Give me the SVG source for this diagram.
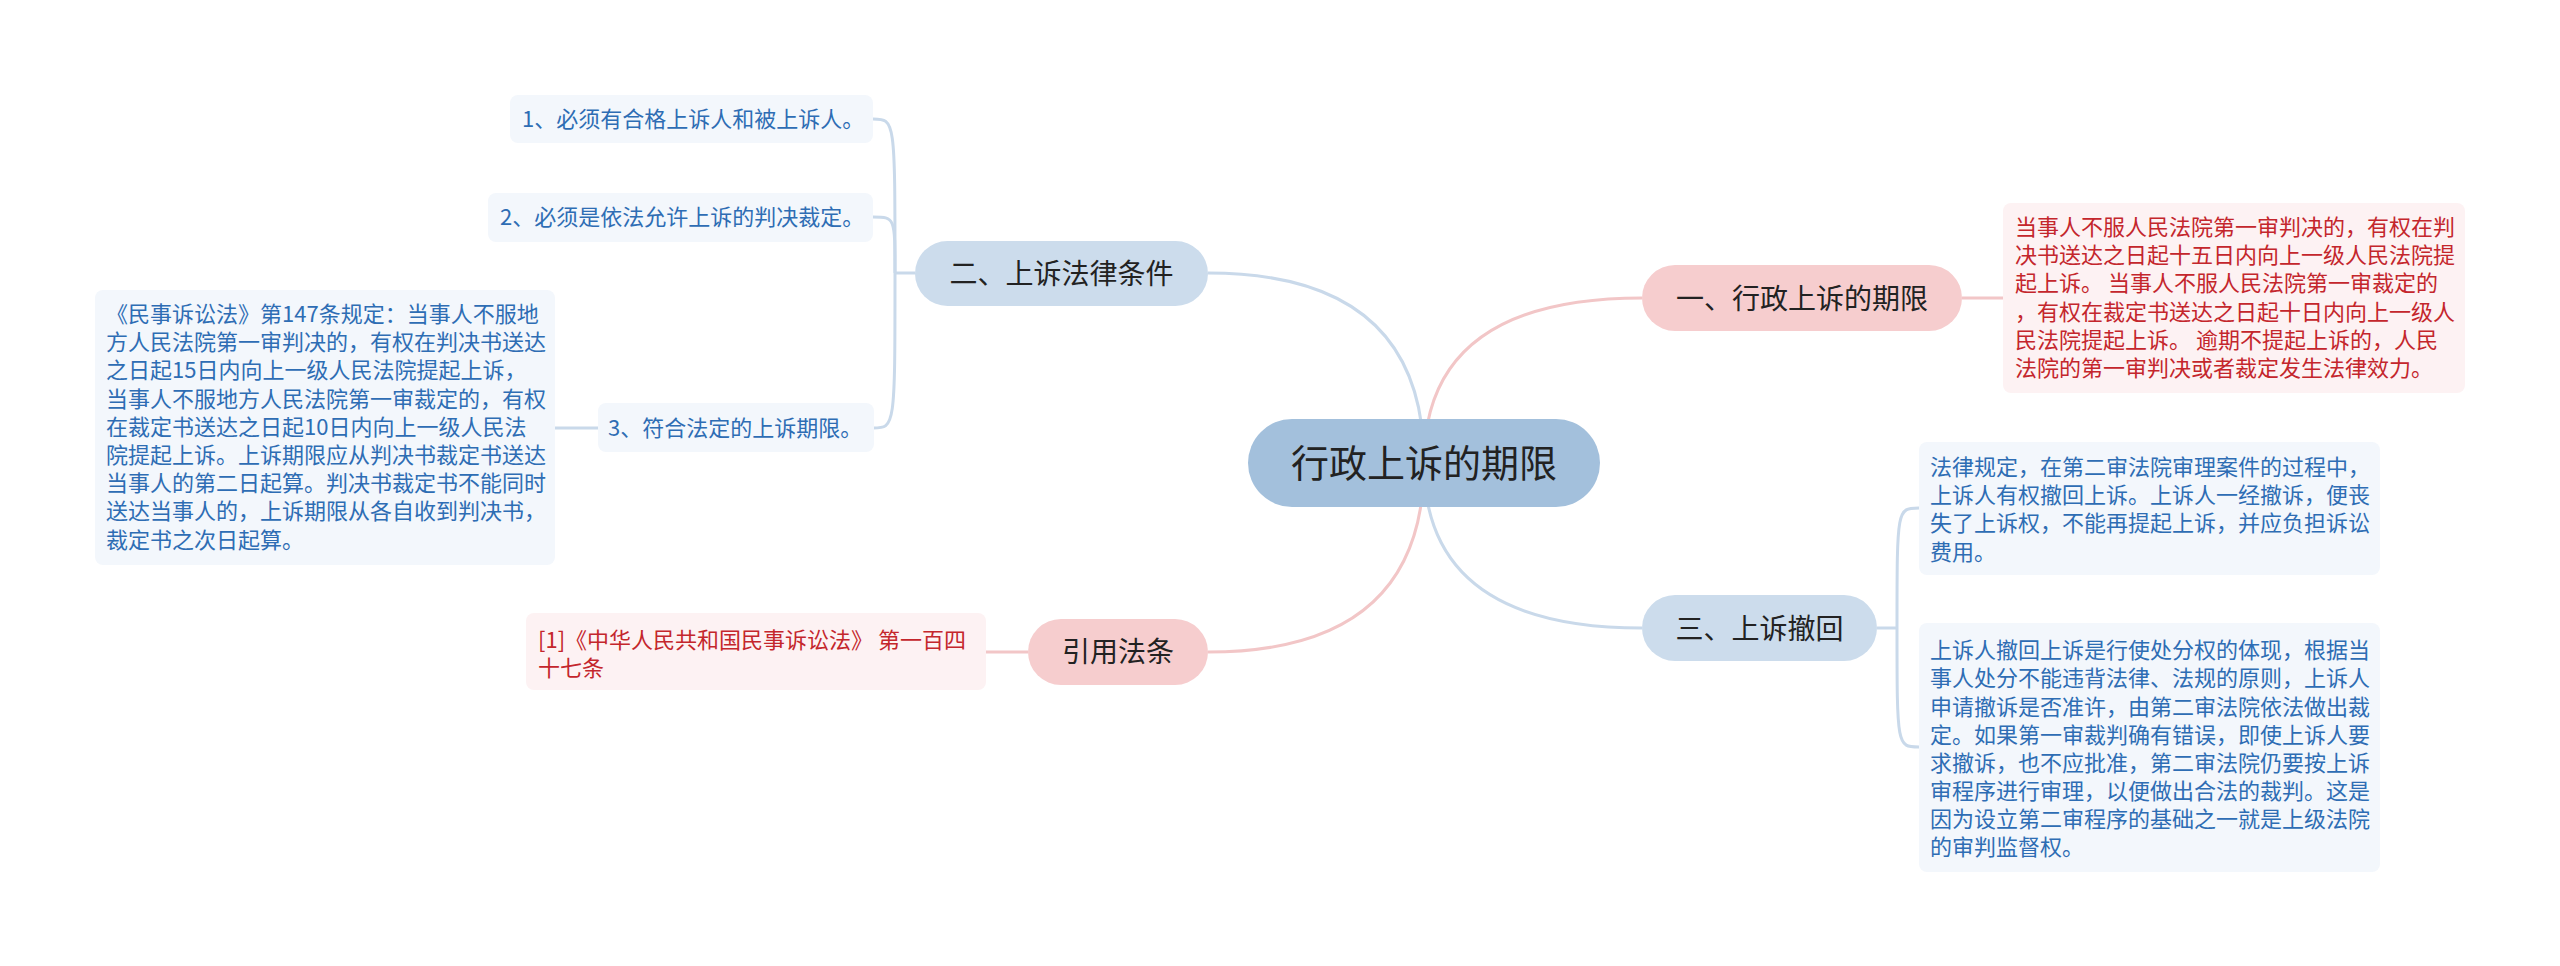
<svg xmlns="http://www.w3.org/2000/svg" width="2560" height="966" viewBox="0 0 2560 966">
<style>
.bg{fill:#ffffff}
.lb{fill:none;stroke:#c9d9ea;stroke-width:3}
.lr{fill:none;stroke:#f2c6c7;stroke-width:3}
.root{fill:#a3c0dc}
.nb{fill:#ccdcec}
.nr{fill:#f6cdce}
.tb{fill:#f3f7fc}
.tr{fill:#fdf2f3}
.t0{font-family:"Noto Sans CJK SC","Noto Sans",sans-serif;font-size:38px;fill:#222;text-anchor:middle}
.t1{font-family:"Noto Sans CJK SC","Noto Sans",sans-serif;font-size:28px;fill:#222;text-anchor:middle}
.tx{font-family:"Noto Sans CJK SC","Noto Sans",sans-serif;font-size:22px;fill:#2e6db4}
.txr{font-family:"Noto Sans CJK SC","Noto Sans",sans-serif;font-size:22px;fill:#c4262c}
</style>
<rect class="bg" x="0" y="0" width="2560" height="966"/>
<g id="connectors">
<path class="lb" d="M1424,463 Q1424,273 1208,273"/>
<path class="lr" d="M1424,463 Q1424,298 1642,298"/>
<path class="lr" d="M1424,463 Q1424,652 1208,652"/>
<path class="lb" d="M1424,463 Q1424,628 1642,628"/>
<path class="lr" d="M1962,298 L2003,298"/>
<path class="lr" d="M1028,652 L986,652"/>
<path class="lb" d="M915,273 L895,273"/>
<path class="lb" d="M895,273 C895,119 895,119 873,119"/>
<path class="lb" d="M895,273 C895,217 895,217 873,217"/>
<path class="lb" d="M895,273 C895,428 895,428 873,428"/>
<path class="lb" d="M598,428 L555,428"/>
<path class="lb" d="M1877,628 L1897,628"/>
<path class="lb" d="M1897,628 C1897,508 1897,508 1919,508"/>
<path class="lb" d="M1897,628 C1897,747 1897,747 1919,747"/>
</g>
<g id="root">
<rect class="root" x="1248" y="419" width="352" height="88" rx="44"/>
<text class="t0" x="1424" y="477">行政上诉的期限</text>
</g>
<g id="n1">
<rect class="nr" x="1642" y="265" width="320" height="66" rx="33"/>
<text class="t1" x="1802" y="309">一、行政上诉的期限</text>
</g>
<g id="n1a">
<rect class="tr" x="2003" y="203" width="462" height="190" rx="8"/>
<text class="txr" x="2015" y="235">当事人不服人民法院第一审判决的，有权在判</text>
<text class="txr" x="2015" y="263">决书送达之日起十五日内向上一级人民法院提</text>
<text class="txr" x="2015" y="291">起上诉。 当事人不服人民法院第一审裁定的</text>
<text class="txr" x="2015" y="320">，有权在裁定书送达之日起十日内向上一级人</text>
<text class="txr" x="2015" y="348">民法院提起上诉。 逾期不提起上诉的，人民</text>
<text class="txr" x="2015" y="376">法院的第一审判决或者裁定发生法律效力。</text>
</g>
<g id="n2">
<rect class="nb" x="915" y="241" width="293" height="65" rx="32.5"/>
<text class="t1" x="1061.5" y="284">二、上诉法律条件</text>
</g>
<g id="n2a">
<rect class="tb" x="510" y="95" width="363" height="48" rx="8"/>
<text class="tx" x="522" y="127">1、必须有合格上诉人和被上诉人。</text>
</g>
<g id="n2b">
<rect class="tb" x="488" y="193" width="385" height="49" rx="8"/>
<text class="tx" x="500" y="225">2、必须是依法允许上诉的判决裁定。</text>
</g>
<g id="n2c">
<rect class="tb" x="598" y="403" width="276" height="49" rx="8"/>
<text class="tx" x="608" y="436">3、符合法定的上诉期限。</text>
</g>
<g id="n2c1">
<rect class="tb" x="95" y="290" width="460" height="275" rx="8"/>
<text class="tx" x="106" y="322">《民事诉讼法》第147条规定：当事人不服地</text>
<text class="tx" x="106" y="350">方人民法院第一审判决的，有权在判决书送达</text>
<text class="tx" x="106" y="378">之日起15日内向上一级人民法院提起上诉，</text>
<text class="tx" x="106" y="407">当事人不服地方人民法院第一审裁定的，有权</text>
<text class="tx" x="106" y="435">在裁定书送达之日起10日内向上一级人民法</text>
<text class="tx" x="106" y="463">院提起上诉。上诉期限应从判决书裁定书送达</text>
<text class="tx" x="106" y="491">当事人的第二日起算。判决书裁定书不能同时</text>
<text class="tx" x="106" y="519">送达当事人的，上诉期限从各自收到判决书，</text>
<text class="tx" x="106" y="548">裁定书之次日起算。</text>
</g>
<g id="n3">
<rect class="nb" x="1642" y="595" width="235" height="66" rx="33"/>
<text class="t1" x="1759.5" y="639">三、上诉撤回</text>
</g>
<g id="n3a">
<rect class="tb" x="1919" y="442" width="461" height="133" rx="8"/>
<text class="tx" x="1930" y="475">法律规定，在第二审法院审理案件的过程中，</text>
<text class="tx" x="1930" y="503">上诉人有权撤回上诉。上诉人一经撤诉，便丧</text>
<text class="tx" x="1930" y="531">失了上诉权，不能再提起上诉，并应负担诉讼</text>
<text class="tx" x="1930" y="560">费用。</text>
</g>
<g id="n3b">
<rect class="tb" x="1919" y="623" width="461" height="249" rx="8"/>
<text class="tx" x="1930" y="658">上诉人撤回上诉是行使处分权的体现，根据当</text>
<text class="tx" x="1930" y="686">事人处分不能违背法律、法规的原则，上诉人</text>
<text class="tx" x="1930" y="715">申请撤诉是否准许，由第二审法院依法做出裁</text>
<text class="tx" x="1930" y="743">定。如果第一审裁判确有错误，即使上诉人要</text>
<text class="tx" x="1930" y="771">求撤诉，也不应批准，第二审法院仍要按上诉</text>
<text class="tx" x="1930" y="799">审程序进行审理，以便做出合法的裁判。这是</text>
<text class="tx" x="1930" y="827">因为设立第二审程序的基础之一就是上级法院</text>
<text class="tx" x="1930" y="855">的审判监督权。</text>
</g>
<g id="n4">
<rect class="nr" x="1028" y="619" width="180" height="66" rx="33"/>
<text class="t1" x="1118" y="662">引用法条</text>
</g>
<g id="n4a">
<rect class="tr" x="526" y="613" width="460" height="77" rx="8"/>
<text class="txr" x="538" y="648">[1]《中华人民共和国民事诉讼法》 第一百四</text>
<text class="txr" x="538" y="676">十七条</text>
</g>
</svg>
